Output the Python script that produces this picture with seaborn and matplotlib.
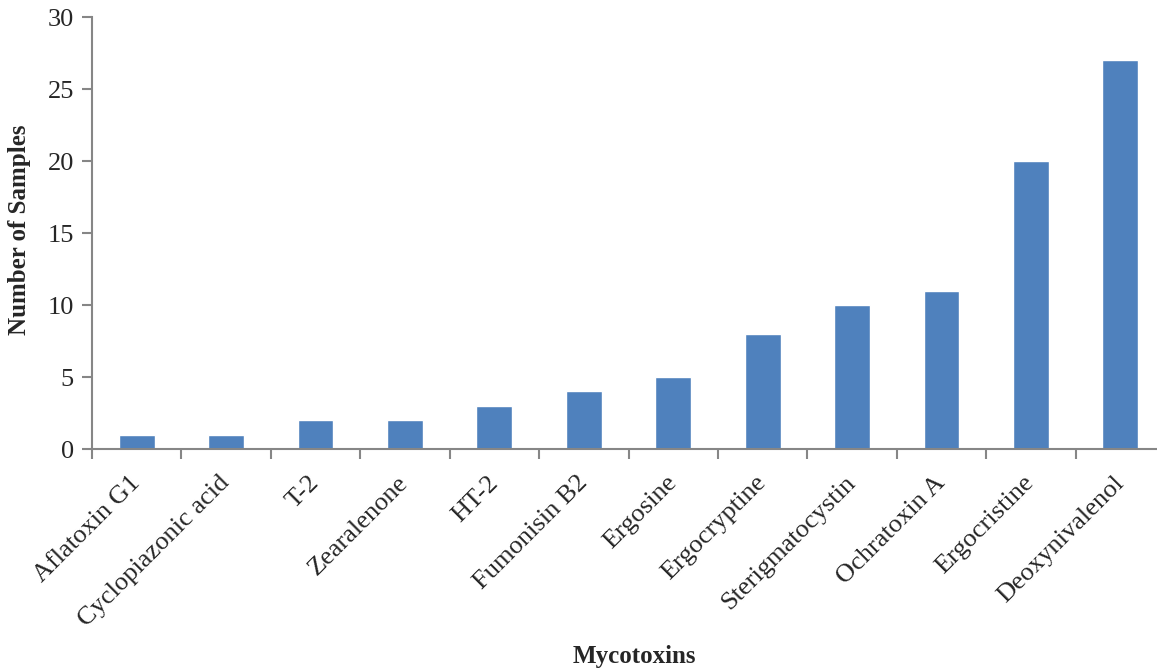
import matplotlib
matplotlib.use("Agg")
import matplotlib.pyplot as plt
import seaborn as sns
import pandas as pd

toxins = [
    "Aflatoxin G1", "Cyclopiazonic acid", "T-2", "Zearalenone", "HT-2",
    "Fumonisin B2", "Ergosine", "Ergocryptine", "Sterigmatocystin",
    "Ochratoxin A", "Ergocristine", "Deoxynivalenol",
]
samples = [1, 1, 2, 2, 3, 4, 5, 8, 10, 11, 20, 27]
y_ticks = [0, 5, 10, 15, 20, 25, 30]

df = pd.DataFrame({"Mycotoxins": toxins, "Samples": samples})

sns.set_theme(style="white")
plt.rcParams["font.family"] = ["Liberation Serif", "DejaVu Serif"]

W, H = 1157, 670
fig = plt.figure(figsize=(W / 100, H / 100), dpi=100)
# axes in pixel units: left spine at x=92, baseline at y=449, top at y=17
left, right, top, bottom = 92, 1165, 17, 449
ax = fig.add_axes([left / W, 1 - bottom / H, (right - left) / W, (bottom - top) / H])

sns.barplot(data=df, x="Mycotoxins", y="Samples", color="#4F81BD",
            width=0.4, saturation=1, ax=ax)

axis_grey = "#868686"
ax.set_xlim(-0.5, len(toxins) - 0.5)
ax.set_ylim(0, 30)
ax.set_yticks(y_ticks)
ax.set_yticklabels([str(v) for v in y_ticks], fontsize=19)

ax.set_xticks(range(len(toxins)))
ax.set_xticklabels(toxins, rotation=45, ha="right", va="center",
                   rotation_mode="anchor", fontsize=19)
ax.tick_params(axis="x", which="major", length=0, pad=22)
# category separator ticks
ax.set_xticks([i - 0.5 for i in range(len(toxins) + 1)], minor=True)
ax.tick_params(axis="x", which="minor", length=7, width=1.5, color=axis_grey,
               direction="out", bottom=True)
ax.tick_params(axis="y", length=7, width=1.5, color=axis_grey,
               direction="out", left=True, pad=6)

for side in ["top", "right"]:
    ax.spines[side].set_visible(False)
for side in ["left", "bottom"]:
    ax.spines[side].set_color(axis_grey)
    ax.spines[side].set_linewidth(1.5)

ax.set_xlabel("")
ax.set_ylabel("")
fig.text(20 / W, 1 - 230 / H, "Number of Samples", rotation=90,
         ha="center", va="center", fontsize=18, fontweight="bold")
fig.text(634 / W, 1 - 656 / H, "Mycotoxins", ha="center", va="center",
         fontsize=18, fontweight="bold")

fig.savefig("out.png", dpi=100)
